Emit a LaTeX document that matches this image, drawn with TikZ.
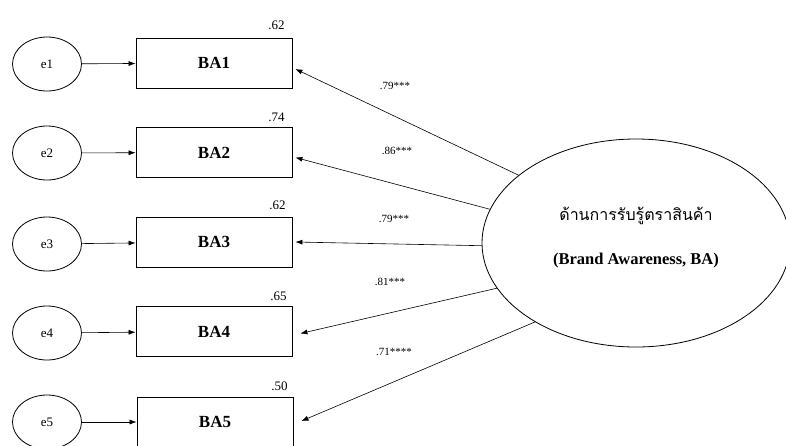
\documentclass[tikz,border=0pt]{standalone}
\usepackage{fontspec}
\setmainfont{Liberation Serif}
\newfontfamily\thaifont[Script=Thai]{Loma}
\usepackage{tikz}
\usetikzlibrary{arrows.meta,positioning,calc,shapes.geometric}

\begin{document}
\begin{tikzpicture}[x=1pt,y=-1pt,
  errnode/.style={draw,thick,ellipse,minimum width=69pt,minimum height=54pt,inner sep=0pt,font=\fontsize{13}{15}\selectfont},
  itembox/.style={draw,thick,minimum width=156pt,minimum height=50pt,inner sep=0pt,font=\fontsize{17}{20}\selectfont\bfseries},
  rsq/.style={font=\fontsize{13}{15}\selectfont},
  load/.style={font=\fontsize{11}{13}\selectfont},
  arr/.style={-{Latex[length=7pt,width=5pt]},semithick}]
  \useasboundingbox (0,0) rectangle (786,445);
  % error terms
  \node[errnode] (e1) at (47,64) {e1};
  \node[errnode] (e2) at (47,153) {e2};
  \node[errnode] (e3) at (47,244) {e3};
  \node[errnode] (e4) at (47,333) {e4};
  \node[errnode] (e5) at (47,422) {e5};
  % indicators
  \node[itembox] (ba1) at (214,63) {BA1};
  \node[itembox] (ba2) at (214,152.5) {BA2};
  \node[itembox] (ba3) at (214,242) {BA3};
  \node[itembox] (ba4) at (214,331.5) {BA4};
  \node[itembox] (ba5) at (215,422) {BA5};
  % latent factor
  \node[draw,thick,ellipse,minimum width=308pt,minimum height=208pt,inner sep=0pt,align=center] (fac) at (636,243)
    {{\thaifont\fontsize{16}{20}\selectfont ด้านการรับรู้ตราสินค้า}\\[28pt]
     {\fontsize{16.5}{19}\selectfont\bfseries (Brand Awareness, BA)}\\[2pt]};
  % squared multiple correlations
  \node[rsq] at ([xshift=-16pt,yshift=12pt]ba1.north east) {.62};
  \node[rsq] at ([xshift=-16pt,yshift=10pt]ba2.north east) {.74};
  \node[rsq] at ([xshift=-15pt,yshift=11pt]ba3.north east) {.62};
  \node[rsq] at ([xshift=-14pt,yshift=10pt]ba4.north east) {.65};
  \node[rsq] at ([xshift=-14pt,yshift=10pt]ba5.north east) {.50};
  % error arrows
  \draw[arr] (e1) -- (ba1);
  \draw[arr] (e2) -- (ba2);
  \draw[arr] (e3) -- (ba3);
  \draw[arr] (e4) -- (ba4);
  \draw[arr] (e5) -- (ba5);
  % loadings
  \draw[arr] (fac.150) -- ([xshift=3pt,yshift=-6pt]ba1.east);
  \draw[arr] (fac.167) -- ([xshift=3pt,yshift=-5pt]ba2.east);
  \draw[arr] (fac.181) -- ([xshift=3pt]ba3.east);
  \draw[arr] (fac.198) -- ([xshift=8pt,yshift=-2pt]ba4.east);
  \draw[arr] (fac.218) -- ([xshift=8pt,yshift=1pt]ba5.east);
  \node[load] at (395,86) {.79***};
  \node[load] at (397,151) {.86***};
  \node[load] at (394,219) {.79***};
  \node[load] at (390,282) {.81***};
  \node[load] at (394,352) {.71****};
\end{tikzpicture}
\end{document}
